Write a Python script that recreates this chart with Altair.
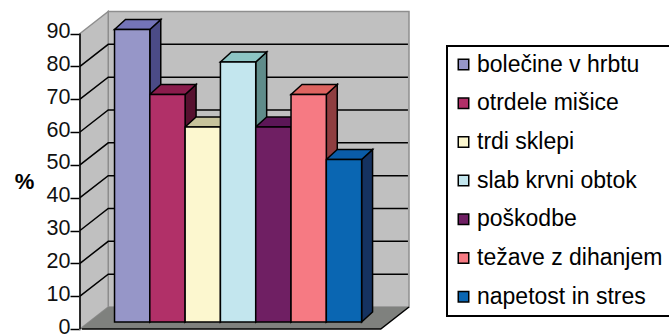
import altair as alt
import pandas as pd

# Chart content
series = ["bolečine v hrbtu", "otrdele mišice", "trdi sklepi", "slab krvni obtok",
          "poškodbe", "težave z dihanjem", "napetost in stres"]
values = [90, 70, 60, 80, 60, 70, 50]
front_colors = ["#9696C8", "#B13068", "#FCF7CF", "#C3E6EE", "#6F1F63", "#F67A83", "#0A66B2"]
side_colors = ["#4B4B86", "#56112F", "#85826A", "#5F8C8A", "#3C0F38", "#8F3E40", "#153260"]
top_colors = ["#7474B8", "#8A1C4C", "#C7C39C", "#8DC5C4", "#5C1657", "#DE6460", "#0A5CA8"]
ticks = list(range(0, 100, 10))
grid_levels = list(range(10, 90, 10))

# Oblique projection, in slot units across and percent units upward
WALL_DX, WALL_DY = 0.80, 6.7
BAR_DX, BAR_DY = 0.31, 3.05
BAR_START, BAR_BASE, BAR_SQUEEZE = 0.978, 2.13, 0.99
X_MAX, Y_MAX = 9.32, 96.86

x_scale = alt.Scale(domain=[0, X_MAX], nice=False, zero=False)
y_scale = alt.Scale(domain=[0, Y_MAX], nice=False, zero=False)
X = alt.X("x:Q", scale=x_scale, axis=None)
Y = alt.Y("y:Q", scale=y_scale, axis=alt.Axis(
    values=ticks, grid=False, domain=False, tickColor="black", tickWidth=1.5, tickSize=10,
    labelFont="Liberation Sans", labelFontSize=21.5, labelColor="#111111", labelPadding=0,
    labelOffset=-2, labelOverlap=False, labelBound=False, labelFlush=False,
    title="%", titleAngle=0, titleFont="Liberation Sans", titleFontSize=22,
    titleFontWeight="bold", titleColor="black", titleX=-56, titleY=170,
    titleAlign="center", titleBaseline="middle",
))

fronts, sides, tops = [], [], []
for i, (name, v) in enumerate(zip(series, values)):
    x0 = BAR_START + i
    x1 = x0 + 1
    y_top = BAR_BASE + v * BAR_SQUEEZE
    fronts.append(dict(series=name, x=x0, x2=x1, y=BAR_BASE, y2=y_top))
    sides += [
        dict(bar=name, color=side_colors[i], x=x1, y=BAR_BASE, y2=y_top),
        dict(bar=name, color=side_colors[i], x=x1 + BAR_DX, y=BAR_BASE + BAR_DY, y2=y_top + BAR_DY),
    ]
    tops += [
        dict(bar=name, color=top_colors[i], y=y_top, x=x0, x2=x1),
        dict(bar=name, color=top_colors[i], y=y_top + BAR_DY, x=x0 + BAR_DX, x2=x1 + BAR_DX),
    ]

# Walls and floor of the box
back_wall = alt.Chart(pd.DataFrame([dict(x=WALL_DX, x2=X_MAX, y=WALL_DY, y2=90 + WALL_DY)])).mark_rect(
    fill="#C0C0C0", stroke="#8E8E8E", strokeWidth=1.5
).encode(x=X, x2="x2:Q", y=Y, y2="y2:Q")

left_wall = alt.Chart(pd.DataFrame([
    dict(x=0, y=0, y2=90), dict(x=WALL_DX, y=WALL_DY, y2=90 + WALL_DY)
])).mark_area(fill="#C0C0C0", stroke="#8E8E8E", strokeWidth=1.5).encode(x=X, y=Y, y2="y2:Q")

floor = alt.Chart(pd.DataFrame([
    dict(y=0, x=0, x2=X_MAX - WALL_DX), dict(y=WALL_DY, x=WALL_DX, x2=X_MAX)
])).mark_area(fill="#7F817E", orient="horizontal").encode(x=X, x2="x2:Q", y=Y)

floor_edge = alt.Chart(pd.DataFrame([
    dict(x=0.05, y=0, k=0), dict(x=X_MAX - WALL_DX, y=0, k=1), dict(x=X_MAX, y=WALL_DY, k=2)
])).mark_line(color="black", strokeWidth=1.5).encode(x=X, y=Y, order="k:Q")

grid_rows = []
for level in grid_levels:
    grid_rows += [
        dict(level=level, k=0, x=0, y=level),
        dict(level=level, k=1, x=WALL_DX, y=level + WALL_DY),
        dict(level=level, k=2, x=X_MAX - 0.03, y=level + WALL_DY),
    ]
grid = alt.Chart(pd.DataFrame(grid_rows)).mark_line(color="black", strokeWidth=1.5).encode(
    x=X, y=Y, detail="level:N", order="k:Q"
)

# Value axis line, stopping at the top tick
axis_line = alt.Chart(pd.DataFrame([dict(x=0, y=0, y2=90)])).mark_rule(
    color="black", strokeWidth=1.5
).encode(x=X, y=Y, y2="y2:Q")

# Bar faces, painted back to front
side_faces = alt.Chart(pd.DataFrame(sides)).mark_area(stroke="black", strokeWidth=1.5).encode(
    x=X, y=Y, y2="y2:Q", detail="bar:N", fill=alt.Fill("color:N", scale=None)
)
top_faces = alt.Chart(pd.DataFrame(tops)).mark_area(
    stroke="black", strokeWidth=1.5, orient="horizontal"
).encode(x=X, x2="x2:Q", y=Y, detail="bar:N", fill=alt.Fill("color:N", scale=None))
front_faces = alt.Chart(pd.DataFrame(fronts)).mark_rect(stroke="black", strokeWidth=1.5).encode(
    x=X, x2="x2:Q", y=Y, y2="y2:Q",
    fill=alt.Fill("series:N", scale=alt.Scale(domain=series, range=front_colors), legend=alt.Legend(
        title=None, orient="none", legendX=367, legendY=35, symbolType="square", symbolSize=110,
        symbolStrokeColor="black", symbolStrokeWidth=1.5, symbolOffset=-2, labelFont="Liberation Sans",
        labelFontSize=23, labelColor="black", labelOffset=2, labelLimit=300, rowPadding=14.7,
        padding=7, strokeColor="black", fillColor="white",
    )),
)

chart = alt.layer(
    back_wall, left_wall, floor, grid, floor_edge, axis_line,
    side_faces, top_faces, front_faces,
).resolve_scale(fill="independent").properties(
    width=329, height=318, background="white", autosize="none",
    padding={"left": 80, "top": 11, "right": 260, "bottom": 7},
).configure_view(stroke=None).configure_legend(strokeWidth=2)

chart.save("out.html", embed_options={"renderer": "svg", "actions": False})
